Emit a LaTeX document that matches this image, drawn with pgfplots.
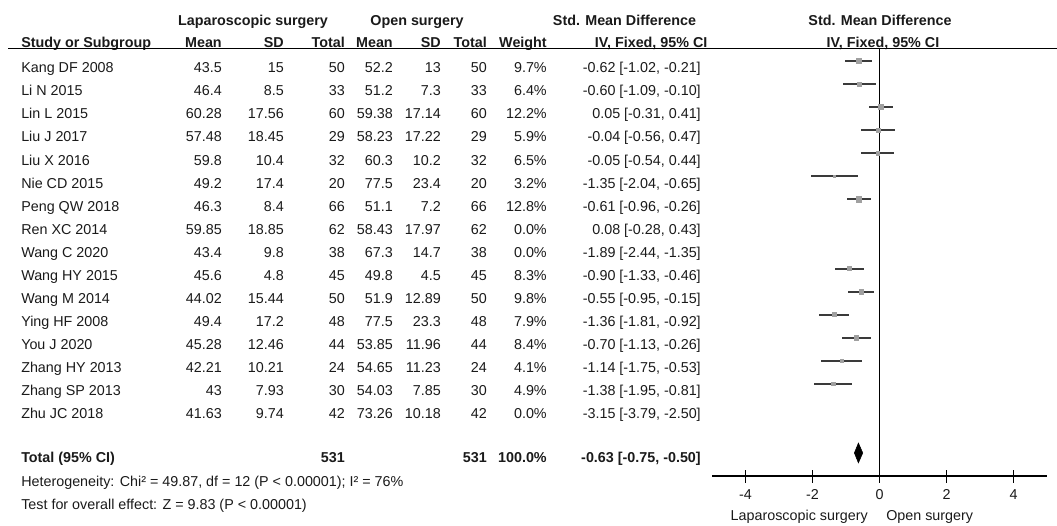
\documentclass[border=0pt]{standalone}
\usepackage{pgfplots}
\pgfplotsset{compat=1.18}
\usepackage{pgfplotstable}
\usepackage{fontspec}
\setmainfont{Liberation Sans}
\definecolor{ciGray}{HTML}{3A3A3A}
\definecolor{sqGray}{HTML}{A0A0A0}
\definecolor{txt}{HTML}{1A1A1A}
\newcommand\fs{\fontsize{10.75}{12.9}\selectfont}

\pgfplotstableread{
x y lo hi w
-0.62 -1 -1.02 -0.21 9.7
-0.60 -2 -1.09 -0.10 6.4
0.05 -3 -0.31 0.41 12.2
-0.04 -4 -0.56 0.47 5.9
-0.05 -5 -0.54 0.44 6.5
-1.35 -6 -2.04 -0.65 3.2
-0.61 -7 -0.96 -0.26 12.8
-0.90 -10 -1.33 -0.46 8.3
-0.55 -11 -0.95 -0.15 9.8
-1.36 -12 -1.81 -0.92 7.9
-0.70 -13 -1.13 -0.26 8.4
-1.14 -14 -1.75 -0.53 4.1
-1.38 -15 -1.95 -0.81 4.9
}\cidata

\newcommand\trow[9]{%
  \pgfmathsetmacro\yb{72.8+(#1-1)*23.05}%
  \node[anchor=base west] at (21,\yb) {#2};
  \node[anchor=base east] at (222,\yb) {#3};
  \node[anchor=base east] at (284,\yb) {#4};
  \node[anchor=base east] at (345,\yb) {#5};
  \node[anchor=base east] at (393,\yb) {#6};
  \node[anchor=base east] at (441,\yb) {#7};
  \node[anchor=base east] at (487,\yb) {#8};
  \node[anchor=base east] at (547,\yb) {#9};
}
\newcommand\tci[2]{%
  \pgfmathsetmacro\yb{72.8+(#1-1)*23.05}%
  \node[anchor=base east] at (701,\yb) {#2};
}

\begin{document}
\begin{tikzpicture}
\begin{axis}[
  at={(534pt,-357pt)}, anchor=south west,
  width=251.25pt, height=320.6pt, scale only axis,
  xmin=-5, xmax=5, ymin=-19, ymax=-0.458,
  axis x line=bottom, axis y line=none,
  x axis line style={-, line width=1pt, black},
  xtick={-4,-2,0,2,4}, xticklabels={-4,-2,0,2,4},
  ytick=\empty,
  tick align=center, major tick length=9.75pt,
  xtick style={line width=1pt, black},
  xticklabel style={font=\fs, text=txt, yshift=-2pt},
  clip=false,
]
\addplot[black, line width=1pt, mark=none] coordinates {(0,-0.458) (0,-19)};
\addplot[draw=none, mark=none, line width=1.5pt,
  error bars/.cd, x dir=both, x explicit, error mark=none,
  error bar style={draw=ciGray, line width=1.5pt, solid},
  error bar style/.append style={line width=1.5pt}]
  table[x=x, y=y, x error plus expr=\thisrow{hi}-\thisrow{x}, x error minus expr=\thisrow{x}-\thisrow{lo}] {\cidata};
\addplot[only marks, mark=square*, scatter, point meta=\thisrow{w},
  scatter/use mapped color={draw=sqGray, fill=sqGray},
  visualization depends on={0.55*sqrt(\thisrow{w}) \as \msize},
  scatter/@pre marker code/.append style={/tikz/mark size=\msize}]
  table[x=x, y=y] {\cidata};
\addplot[fill=black, draw=black, mark=none] coordinates {(-0.75,-18) (-0.63,-17.57) (-0.50,-18) (-0.63,-18.43)} -- cycle;
\end{axis}

\begin{scope}[x=0.75pt, y=-0.75pt, every node/.style={font=\fs, inner sep=0pt, text=txt}]
% headers
\node[anchor=base, font=\fs\bfseries] at (253,25.5) {Laparoscopic surgery};
\node[anchor=base, font=\fs\bfseries] at (417,25.5) {Open surgery};
\node[anchor=base, font=\fs\bfseries] at (624.5,25.5) {Std. Mean Difference};
\node[anchor=base, font=\fs\bfseries] at (880,25.5) {Std. Mean Difference};
\node[anchor=base west, font=\fs\bfseries] at (21,47) {Study or Subgroup};
\node[anchor=base east, font=\fs\bfseries] at (222,47) {Mean};
\node[anchor=base east, font=\fs\bfseries] at (284,47) {SD};
\node[anchor=base east, font=\fs\bfseries] at (345,47) {Total};
\node[anchor=base east, font=\fs\bfseries] at (393,47) {Mean};
\node[anchor=base east, font=\fs\bfseries] at (441,47) {SD};
\node[anchor=base east, font=\fs\bfseries] at (487,47) {Total};
\node[anchor=base east, font=\fs\bfseries] at (547,47) {Weight};
\node[anchor=base east, font=\fs\bfseries] at (707.7,47) {IV, Fixed, 95\% CI};
\node[anchor=base, font=\fs\bfseries] at (883,47) {IV, Fixed, 95\% CI};
\draw[line width=1pt, black] (8,48.6) -- (1057,48.6);
% rows
\trow{1}{Kang DF 2008}{43.5}{15}{50}{52.2}{13}{50}{9.7\%}
\tci{1}{-0.62 [-1.02, -0.21]}
\trow{2}{Li N 2015}{46.4}{8.5}{33}{51.2}{7.3}{33}{6.4\%}
\tci{2}{-0.60 [-1.09, -0.10]}
\trow{3}{Lin L 2015}{60.28}{17.56}{60}{59.38}{17.14}{60}{12.2\%}
\tci{3}{0.05 [-0.31, 0.41]}
\trow{4}{Liu J 2017}{57.48}{18.45}{29}{58.23}{17.22}{29}{5.9\%}
\tci{4}{-0.04 [-0.56, 0.47]}
\trow{5}{Liu X 2016}{59.8}{10.4}{32}{60.3}{10.2}{32}{6.5\%}
\tci{5}{-0.05 [-0.54, 0.44]}
\trow{6}{Nie CD 2015}{49.2}{17.4}{20}{77.5}{23.4}{20}{3.2\%}
\tci{6}{-1.35 [-2.04, -0.65]}
\trow{7}{Peng QW 2018}{46.3}{8.4}{66}{51.1}{7.2}{66}{12.8\%}
\tci{7}{-0.61 [-0.96, -0.26]}
\trow{8}{Ren XC 2014}{59.85}{18.85}{62}{58.43}{17.97}{62}{0.0\%}
\tci{8}{0.08 [-0.28, 0.43]}
\trow{9}{Wang C 2020}{43.4}{9.8}{38}{67.3}{14.7}{38}{0.0\%}
\tci{9}{-1.89 [-2.44, -1.35]}
\trow{10}{Wang HY 2015}{45.6}{4.8}{45}{49.8}{4.5}{45}{8.3\%}
\tci{10}{-0.90 [-1.33, -0.46]}
\trow{11}{Wang M 2014}{44.02}{15.44}{50}{51.9}{12.89}{50}{9.8\%}
\tci{11}{-0.55 [-0.95, -0.15]}
\trow{12}{Ying HF 2008}{49.4}{17.2}{48}{77.5}{23.3}{48}{7.9\%}
\tci{12}{-1.36 [-1.81, -0.92]}
\trow{13}{You J 2020}{45.28}{12.46}{44}{53.85}{11.96}{44}{8.4\%}
\tci{13}{-0.70 [-1.13, -0.26]}
\trow{14}{Zhang HY 2013}{42.21}{10.21}{24}{54.65}{11.23}{24}{4.1\%}
\tci{14}{-1.14 [-1.75, -0.53]}
\trow{15}{Zhang SP 2013}{43}{7.93}{30}{54.03}{7.85}{30}{4.9\%}
\tci{15}{-1.38 [-1.95, -0.81]}
\trow{16}{Zhu JC 2018}{41.63}{9.74}{42}{73.26}{10.18}{42}{0.0\%}
\tci{16}{-3.15 [-3.79, -2.50]}
% total
\node[anchor=base west, font=\fs\bfseries] at (21,462.8) {Total (95\% CI)};
\node[anchor=base east, font=\fs\bfseries] at (345,462.8) {531};
\node[anchor=base east, font=\fs\bfseries] at (487,462.8) {531};
\node[anchor=base east, font=\fs\bfseries] at (547,462.8) {100.0\%};
\node[anchor=base east, font=\fs\bfseries] at (701,462.8) {-0.63 [-0.75, -0.50]};
\node[anchor=base west] at (21,486.8) {Heterogeneity: Chi² = 49.87, df = 12 (P < 0.00001); I² = 76\%};
\node[anchor=base west] at (21,509.4) {Test for overall effect: Z = 9.83 (P < 0.00001)};
% favours labels
\node[anchor=base east] at (868,520.5) {Laparoscopic surgery};
\node[anchor=base west] at (886,520.5) {Open surgery};
\pgfresetboundingbox
\path[use as bounding box] (0,0) rectangle (1057,525);
\end{scope}
\end{tikzpicture}
\end{document}
